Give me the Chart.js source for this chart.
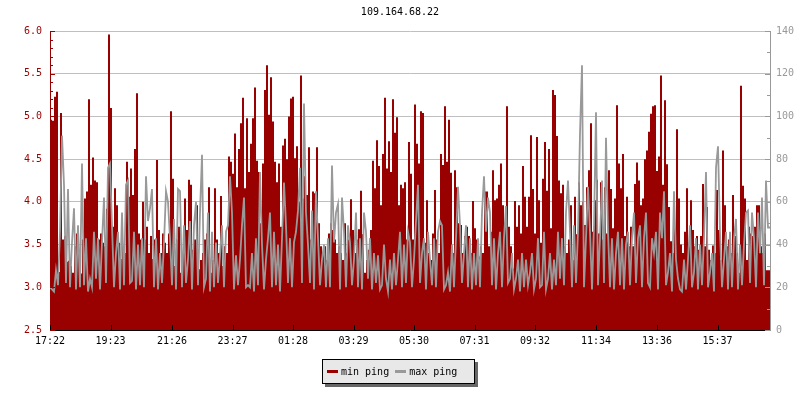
<!DOCTYPE html>
<html>
<head>
<meta charset="utf-8">
<script src="https://cdn.jsdelivr.net/npm/chart.js@4.4.1/dist/chart.umd.min.js"></script>
<style>
body{margin:0;background:#fff;}
#wrap{position:relative;width:800px;height:400px;}
#legend{position:absolute;left:322px;top:359px;width:153px;height:25px;box-sizing:border-box;padding-left:4px;
  background:#e8e8e8;border:1px solid #000;box-shadow:3px 3px 0 #666;display:flex;align-items:center;
  font:10px "DejaVu Sans Mono",monospace;color:#000;white-space:pre;}
#legend .sw{display:inline-block;width:11px;height:3px;margin-right:3px;}
#legend .it{display:flex;align-items:center;margin-right:6px;}
</style>
</head>
<body>
<div id="wrap">
  <canvas id="chart" width="800" height="400"></canvas>
  <div id="legend"></div>
</div>
<script>
const title = '109.164.68.22';
const tickLabels = ['17:22','19:23','21:26','23:27','01:28','03:29','05:30','07:31','09:32','11:34','13:36','15:37'];
const stepMinutes = 4;   // one sample every 4 minutes, 24h

// min ping (ms), left axis
const minPing = [
 4.96,
 4.96,4.95,5.23,5.29,3.18,5.04,3.56,3.60,3.30,3.31,
 3.25,3.17,3.48,3.63,3.40,3.16,3.56,4.04,4.12,5.20,
 4.20,4.52,4.25,4.23,3.56,3.63,3.52,3.48,3.92,5.96,
 5.10,3.71,4.16,3.96,3.52,3.33,3.48,3.40,4.47,4.06,
 4.39,4.08,4.62,5.27,3.63,3.56,4.00,3.56,3.71,3.40,
 3.60,3.33,3.56,4.49,3.67,3.40,3.63,3.52,3.40,
 3.63,5.06,4.27,3.25,3.56,3.71,3.17,3.40,4.04,3.67,
 4.26,4.20,3.44,3.56,3.96,3.21,3.32,3.40,3.56,3.63,
 4.17,3.17,3.32,4.16,3.56,3.40,4.07,3.25,3.48,3.40,
 4.53,4.47,4.33,4.80,4.17,4.62,4.92,5.22,4.16,4.98,
 4.35,4.68,4.98,5.34,4.48,4.35,3.75,4.45,5.31,5.60,
 5.02,5.46,4.94,4.47,4.23,4.45,3.71,4.66,4.74,4.50,
 5.00,5.21,5.23,4.51,4.65,4.00,5.48,4.04,4.30,4.08,
 4.64,3.56,4.12,4.10,4.64,3.75,3.48,3.40,3.48,3.32,
 3.63,3.75,3.67,3.56,3.40,3.48,3.40,3.32,3.75,3.40,
 3.56,4.03,3.67,3.40,3.56,3.68,4.13,3.62,3.17,3.32,
 3.44,3.67,4.48,4.16,4.72,4.42,3.96,4.56,5.22,4.39,
 4.71,4.35,5.20,4.81,4.99,3.96,4.20,4.16,4.23,3.56,
 4.70,4.33,3.56,5.14,4.68,4.45,5.06,5.04,3.52,4.02,
 3.40,3.32,3.63,4.14,3.56,3.40,4.56,4.43,5.12,4.47,
 4.96,4.34,3.40,4.37,4.17,3.75,3.73,3.40,3.60,3.71,
 3.60,3.40,4.01,3.69,3.56,3.36,3.48,3.40,4.12,4.12,
 3.48,3.65,4.37,4.02,4.04,4.20,4.45,3.96,3.71,5.12,
 3.71,3.48,3.22,4.01,3.71,3.96,3.63,4.42,4.06,3.71,
 4.06,4.78,4.15,3.63,4.76,4.02,3.52,4.27,4.70,4.13,
 4.62,3.69,5.31,5.25,4.77,4.25,4.10,4.20,3.48,3.40,
 3.56,3.96,3.32,4.06,3.62,4.23,3.96,4.00,3.73,4.17,
 4.37,4.92,3.65,4.02,4.26,3.63,4.23,3.56,4.17,3.63,
 4.37,4.15,3.69,4.04,5.13,4.45,4.16,4.56,3.60,4.06,
 3.48,3.71,3.48,4.21,4.46,4.25,3.96,4.04,4.50,4.60,
 4.82,5.03,5.12,5.13,4.36,4.53,5.48,4.20,5.19,4.44,
 3.94,3.54,3.40,3.69,4.85,4.04,3.50,3.40,3.65,4.16,
 3.48,4.02,3.67,3.48,3.60,3.44,3.60,4.21,3.48,3.94,
 3.44,3.32,3.49,3.40,4.14,3.67,3.32,4.60,3.96,3.48,
 3.56,3.40,4.08,3.60,3.40,3.17,5.36,4.19,4.04,3.32,
 3.71,3.63,3.60,3.71,3.96,3.96,3.48,3.40,3.63,
 3.20
];

// max ping (ms), right axis
const maxPing = [
 20,
 19,18,28,21,46,91,68,22,66,20,
 41,57,19,49,20,78,21,43,18,24,
 20,46,24,43,19,41,62,22,76,78,
 49,20,36,46,19,55,21,68,70,22,
 23,46,19,40,21,43,20,72,51,57,
 66,20,43,19,36,22,41,65,60,
 43,21,52,19,66,65,20,49,22,33,
 51,19,49,60,21,55,82,20,24,55,
 18,46,20,41,22,35,49,20,46,49,
 72,55,19,35,21,33,49,62,20,21,
 20,36,18,43,21,74,40,19,33,43,
 55,20,46,21,40,18,43,69,49,22,
 43,20,41,46,56,76,22,106,55,40,
 22,56,19,65,43,21,33,40,20,43,
 20,77,41,55,59,19,62,46,20,49,
 41,21,33,55,20,43,19,55,46,24,
 43,19,36,22,35,19,21,40,24,18,
 33,19,36,21,33,46,20,40,22,46,
 41,20,33,51,68,22,36,43,19,46,
 33,21,43,20,46,51,49,19,21,27,
 18,40,20,43,67,49,22,36,49,20,
 43,19,36,21,43,20,55,72,46,62,
 55,21,43,19,36,46,20,43,58,22,
 24,36,19,24,33,18,36,20,33,21,
 27,36,19,24,43,20,21,46,19,24,
 36,19,33,21,46,24,43,21,55,70,
 46,20,49,22,46,92,124,20,43,67,
 46,19,49,102,21,43,70,22,90,46,
 20,43,19,36,46,21,43,19,40,46,
 21,43,55,22,43,49,20,43,55,22,
 20,43,36,46,19,55,43,65,21,27,
 36,18,65,33,24,19,18,33,19,33,
 49,20,27,43,19,40,21,43,74,20,
 27,36,18,76,86,46,20,33,46,19,
 46,20,43,52,19,40,21,40,55,56,
 22,55,43,20,55,36,62,21,70,
 48
];

const RED = '#990000';
const GRAY = '#999999';
const FONT = '"DejaVu Sans Mono", monospace';

function toPoints(arr){
    const pts = arr.map((v,i) => ({x:i, y:v}));
    pts.push({x:arr.length, y:arr[arr.length-1]});
    return pts;
}
function tickPos(label){
    const p = s => { const [h,m] = s.split(':').map(Number); return h*60+m; };
    return ((p(label) - p(tickLabels[0]) + 1440) % 1440) / stepMinutes;
}

// small inward tick marks like rrdtool
const axisTicks = {
    id:'axisTicks',
    afterDraw(chart){
        const {ctx, chartArea:a, scales} = chart;
        ctx.save();
        ctx.lineWidth = 1;
        ctx.strokeStyle = RED;
        for(let k=0;k<=35;k++){
            const y = Math.round(scales.y.getPixelForValue(2.5+k*0.1))+0.5;
            ctx.beginPath(); ctx.moveTo(a.left, y); ctx.lineTo(a.left+(k%5===0?5:3), y); ctx.stroke();
        }
        ctx.strokeStyle = GRAY;
        for(let v=0;v<=140;v+=10){
            const y = Math.round(scales.y2.getPixelForValue(v))+0.5;
            ctx.beginPath(); ctx.moveTo(a.right, y); ctx.lineTo(a.right-(v%20===0?5:3), y); ctx.stroke();
        }
        ctx.strokeStyle = '#000';
        scales.x.ticks.forEach(t => {
            const x = Math.round(scales.x.getPixelForValue(t.value))+0.5;
            ctx.beginPath(); ctx.moveTo(x, a.bottom); ctx.lineTo(x, a.bottom-5); ctx.stroke();
        });
        ctx.restore();
    }
};

Chart.defaults.font.family = FONT;
Chart.defaults.font.size = 10;

const chart = new Chart(document.getElementById('chart').getContext('2d'), {
    type:'line',
    data:{ datasets:[
        {label:'min ping', data:toPoints(minPing), yAxisID:'y', stepped:'after', fill:'start',
         backgroundColor:RED, borderColor:'rgba(0,0,0,0)', borderWidth:1, pointRadius:0, order:1},
        {label:'max ping', data:toPoints(maxPing), yAxisID:'y2', stepped:false, tension:0, fill:false,
         borderColor:GRAY, borderWidth:1.8, pointRadius:0, order:0}
    ]},
    options:{
        responsive:false, animation:false, events:[],
        layout:{padding:0},
        plugins:{
            legend:{display:false}, tooltip:{enabled:false},
            title:{display:true, text:title, color:'#000', font:{size:10, weight:'normal'}, padding:{top:6, bottom:13}}
        },
        scales:{
            x:{type:'linear', min:0, max:minPing.length,
               grid:{display:false, drawTicks:false},
               border:{color:'#000'},
               afterBuildTicks(s){ s.ticks = tickLabels.map(l => ({value:tickPos(l)})); },
               afterFit(s){ s.height = 70; },
               ticks:{color:'#000', padding:5, autoSkip:false, maxRotation:0, callback:(v,i) => tickLabels[i]}},
            y:{position:'left', min:2.5, max:6.0,
               grid:{color:'#bfbfbf', drawTicks:false},
               border:{color:RED},
               afterFit(s){ s.width = 50; },
               ticks:{stepSize:0.5, color:RED, padding:8, callback:v => v.toFixed(1)}},
            y2:{position:'right', min:0, max:140,
               grid:{display:false, drawTicks:false},
               border:{color:GRAY},
               afterFit(s){ s.width = 30; },
               ticks:{stepSize:20, color:GRAY, padding:6}}
        }
    },
    plugins:[axisTicks]
});

// legend box
const legendColors = [RED, GRAY];
document.getElementById('legend').innerHTML = chart.data.datasets.map((d,i) =>
    `<span class="it"><span class="sw" style="background:${legendColors[i]}"></span>${d.label}</span>`).join('');
</script>
</body>
</html>
